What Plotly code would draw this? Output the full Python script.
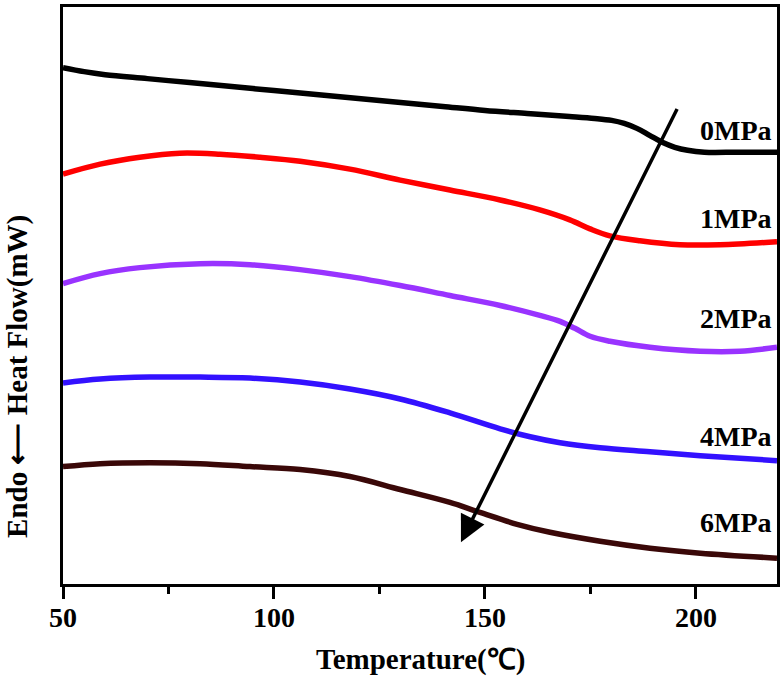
import plotly.graph_objects as go

# Temperature (°C) and relative heat flow (arbitrary offset units)
t_0 = [50, 55, 60, 70, 80, 90, 100, 110, 120, 130, 140, 150, 160, 170, 176, 180, 183, 186, 189, 192, 195, 198, 202, 210, 219.2]
hf_0 = [519, 515, 512, 508, 504, 500, 496, 492, 488, 484, 480, 476, 473, 470, 468, 466, 463, 458, 451, 444, 439, 436, 434, 434, 434]

t_1 = [50, 58.8, 68.2, 77.7, 87.2, 96.7, 106.2, 118.0, 129.9, 141.7, 153.6, 163.0, 170.1, 174.9, 179.6, 186.7, 196.2, 205.7, 219.2]
hf_1 = [412, 422, 429, 433, 432, 429, 425, 417, 406, 396, 386, 376, 366, 357, 350, 345, 341, 341, 344]

t_2 = [50, 58.8, 68.2, 82.5, 94.3, 106.2, 118.0, 129.9, 141.7, 153.6, 163.0, 167.8, 171.3, 174.9, 179.6, 189.1, 201.0, 210.4, 219.2]
hf_2 = [302, 312, 318, 322, 321, 316, 309, 300, 290, 280, 270, 264, 257, 249, 244, 238, 234, 234, 238]

t_4 = [50, 58.8, 70.6, 82.5, 94.3, 106.2, 118.0, 129.9, 141.7, 153.6, 160.7, 167.8, 177.3, 189.1, 201.0, 219.2]
hf_4 = [202, 206, 208, 208, 207, 203, 196, 186, 172, 156, 148, 142, 137, 133, 129, 124]

t_6 = [50, 58.8, 70.6, 82.5, 94.3, 106.2, 118.0, 129.9, 141.7, 148.8, 157.6, 165.4, 177.3, 189.1, 201.0, 219.2]
hf_6 = [118, 121, 122, 121, 118, 115, 108, 95, 82, 72, 60, 52, 43, 36, 31, 26]

series = [
    ("0MPa", t_0, hf_0, "#000000", 456),
    ("1MPa", t_1, hf_1, "#ff0000", 367),
    ("2MPa", t_2, hf_2, "#9933ff", 267),
    ("4MPa", t_4, hf_4, "#3311ff", 148),
    ("6MPa", t_6, hf_6, "#3a0808", 62),
]

x_ticks = [50, 100, 150, 200]
arrow_tail = (195.7, 479)
arrow_tip = (144.3, 42)

FONT = "Liberation Serif"

fig = go.Figure()
for name, t, hf, color, _ in series:
    fig.add_trace(go.Scatter(
        x=t, y=hf, mode="lines", name=name,
        line=dict(color=color, width=5.5, shape="spline", smoothing=1.0),
        showlegend=False,
    ))

annotations = []
for name, t, hf, color, label_y in series:
    annotations.append(dict(
        x=218.4, y=label_y, xref="x", yref="y", text=f"<b>{name}</b>",
        showarrow=False, xanchor="right", yanchor="middle",
        font=dict(family=FONT, size=28, color="black"),
    ))

annotations.append(dict(
    x=arrow_tip[0], y=arrow_tip[1], ax=arrow_tail[0], ay=arrow_tail[1],
    xref="x", yref="y", axref="x", ayref="y", text="",
    showarrow=True, arrowhead=2, arrowsize=1.5, arrowwidth=3.5, arrowcolor="black",
))

annotations.append(dict(
    x=0.5, y=-0.131, xref="paper", yref="paper",
    text="<b>Temperature(℃)</b>", showarrow=False,
    xanchor="center", yanchor="middle",
    font=dict(family=FONT, size=29, color="black"),
))
annotations.append(dict(
    x=-0.0630, y=0.359, xref="paper", yref="paper",
    text="<b>Endo ⟵ Heat Flow(mW)</b>", showarrow=False, textangle=-90,
    xanchor="center", yanchor="middle",
    font=dict(family=FONT, size=29, color="black"),
))

fig.update_layout(
    width=784, height=679,
    margin=dict(l=63, r=7, t=4, b=95),
    paper_bgcolor="white", plot_bgcolor="white",
    annotations=annotations,
    xaxis=dict(
        range=[50, 219.2], showgrid=False, zeroline=False,
        showline=True, linewidth=3, linecolor="black", mirror=True,
        ticks="outside", ticklen=12, tickwidth=3, tickcolor="black",
        tickvals=x_ticks, ticktext=[f"<b>{v}</b>" for v in x_ticks],
        tickfont=dict(family=FONT, size=28, color="black"),
        ticklabelstandoff=-6,
        minor=dict(ticks="outside", ticklen=7, tickwidth=3, tickcolor="black",
                   tickvals=[75, 125, 175]),
    ),
    yaxis=dict(
        range=[0, 580], showgrid=False, zeroline=False,
        showline=True, linewidth=3, linecolor="black", mirror=True,
        showticklabels=False, ticks="",
    ),
)

fig.write_html("out.html", config={"displayModeBar": False},
               post_script="document.body.style.margin='0';")
